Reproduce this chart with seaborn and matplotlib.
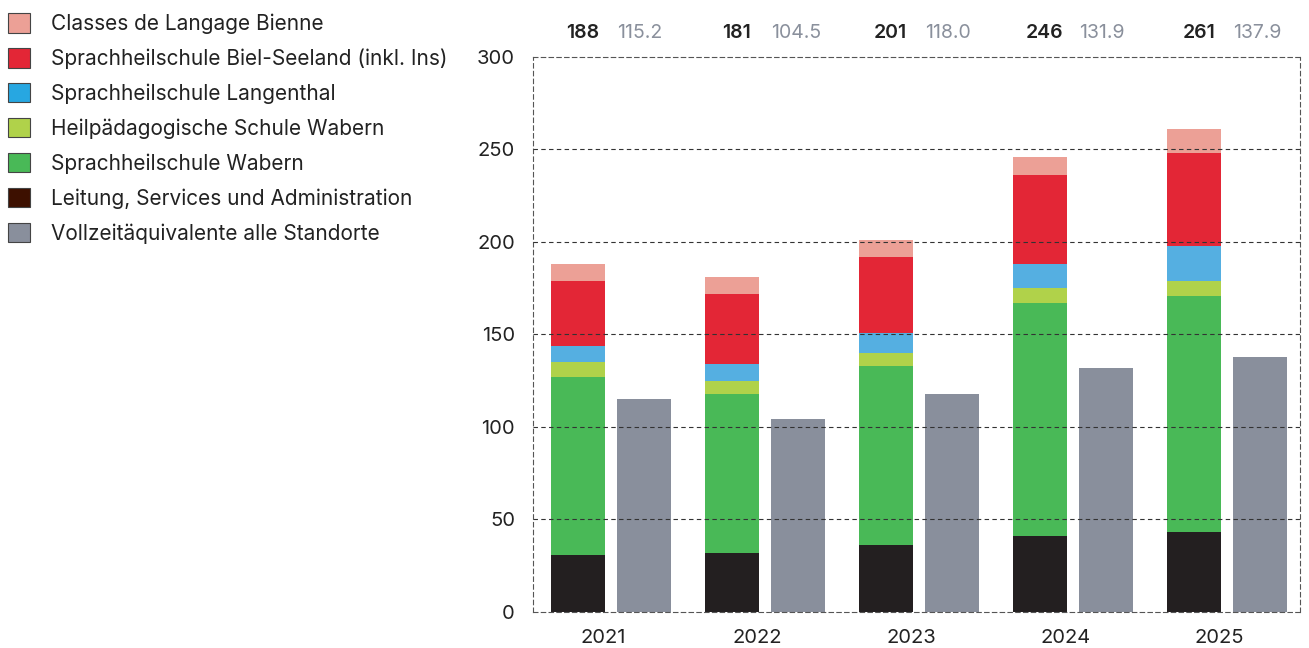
import numpy as np
import pandas as pd
import matplotlib
matplotlib.use("Agg")
import matplotlib.pyplot as plt
import matplotlib.transforms as mtransforms
from matplotlib.patches import Patch
import seaborn as sns

# data
years = ["2021", "2022", "2023", "2024", "2025"]
leitung = [31, 32, 36, 41, 43]
sh_wabern = [96, 86, 97, 126, 128]
hps_wabern = [8, 7, 7, 8, 8]
sh_langenthal = [9, 9, 11, 13, 19]
sh_biel = [35, 38, 41, 48, 50]
classes_bienne = [9, 9, 9, 10, 13]
totals = [188, 181, 201, 246, 261]
vza = [115.2, 104.5, 118.0, 131.9, 137.9]

series_names = [
    "Leitung, Services und Administration",
    "Sprachheilschule Wabern",
    "Heilpädagogische Schule Wabern",
    "Sprachheilschule Langenthal",
    "Sprachheilschule Biel-Seeland (inkl. Ins)",
    "Classes de Langage Bienne",
]
series = [leitung, sh_wabern, hps_wabern, sh_langenthal, sh_biel, classes_bienne]
bar_colors = ["#231f20", "#49b957", "#b0d24a", "#55afe1", "#e32636", "#eca096"]
legend_colors = ["#3d1000", "#49b957", "#b0d24a", "#27a7e1", "#e32636", "#eca096"]
gray = "#898f9c"

sns.set_theme(style="white")
plt.rcParams["font.family"] = ["Inter", "DejaVu Sans"]

fig = plt.figure(figsize=(13.09, 6.48), dpi=100)
ax = fig.add_axes([0.4072, 0.0556, 0.5859, 0.8565])

pos = np.arange(len(years))
off = 0.213
w = 0.35

# stacked bars: draw cumulative sums from the top layer down
cum = np.cumsum(np.array(series, dtype=float), axis=0)
for i in range(len(series) - 1, -1, -1):
    df = pd.DataFrame({"x": pos - off, "y": cum[i]})
    sns.barplot(data=df, x="x", y="y", native_scale=True, width=w,
                color=bar_colors[i], saturation=1, linewidth=0,
                errorbar=None, ax=ax)

df_vza = pd.DataFrame({"x": pos + off, "y": vza})
sns.barplot(data=df_vza, x="x", y="y", native_scale=True, width=w,
            color=gray, saturation=1, linewidth=0, errorbar=None, ax=ax)

ax.set_xlim(-0.506, 4.474)
ax.set_ylim(0, 300)
ax.set_xticks(pos - 0.05)
ax.set_xticklabels(years)
ax.set_yticks(range(0, 301, 50))
ax.set_xlabel("")
ax.set_ylabel("")
ax.tick_params(axis="both", length=0, labelsize=14.5, colors="#222222")
ax.tick_params(axis="y", pad=13)
ax.tick_params(axis="x", pad=12)

for s in ["left", "right", "bottom", "top"]:
    ax.spines[s].set_visible(True)
    ax.spines[s].set_linestyle((0, (4, 3)))
    ax.spines[s].set_linewidth(0.8)
    ax.spines[s].set_color("#555555")
for yv in [50, 100, 150, 200, 250]:
    ax.axhline(yv, color="#333333", lw=0.8, ls=(0, (4, 3)), zorder=3)

trans = mtransforms.blended_transform_factory(ax.transData, ax.transAxes)
for p, t, v in zip(pos, totals, vza):
    ax.text(p - off + 0.03, 1.043, str(t), transform=trans, ha="center", va="center",
            fontsize=14, fontweight="semibold", color="#222222")
    ax.text(p + off - w / 2, 1.043, f"{v:.1f}", transform=trans, ha="left", va="center",
            fontsize=14, color="#8a909c")

handles = [Patch(facecolor=legend_colors[i], edgecolor="#444444", linewidth=0.8,
                 label=series_names[i]) for i in range(len(series) - 1, -1, -1)]
handles.append(Patch(facecolor=gray, edgecolor="#444444", linewidth=0.8,
                     label="Vollzeitäquivalente alle Standorte"))
fig.legend(handles=handles, loc="upper left", bbox_to_anchor=(-0.005, 1.002),
           frameon=False, fontsize=15, handlelength=1.05, handleheight=1.05,
           handletextpad=1.0, labelspacing=0.68, borderaxespad=0.3,
           labelcolor="#222222")

fig.savefig("out.png", dpi=100)
